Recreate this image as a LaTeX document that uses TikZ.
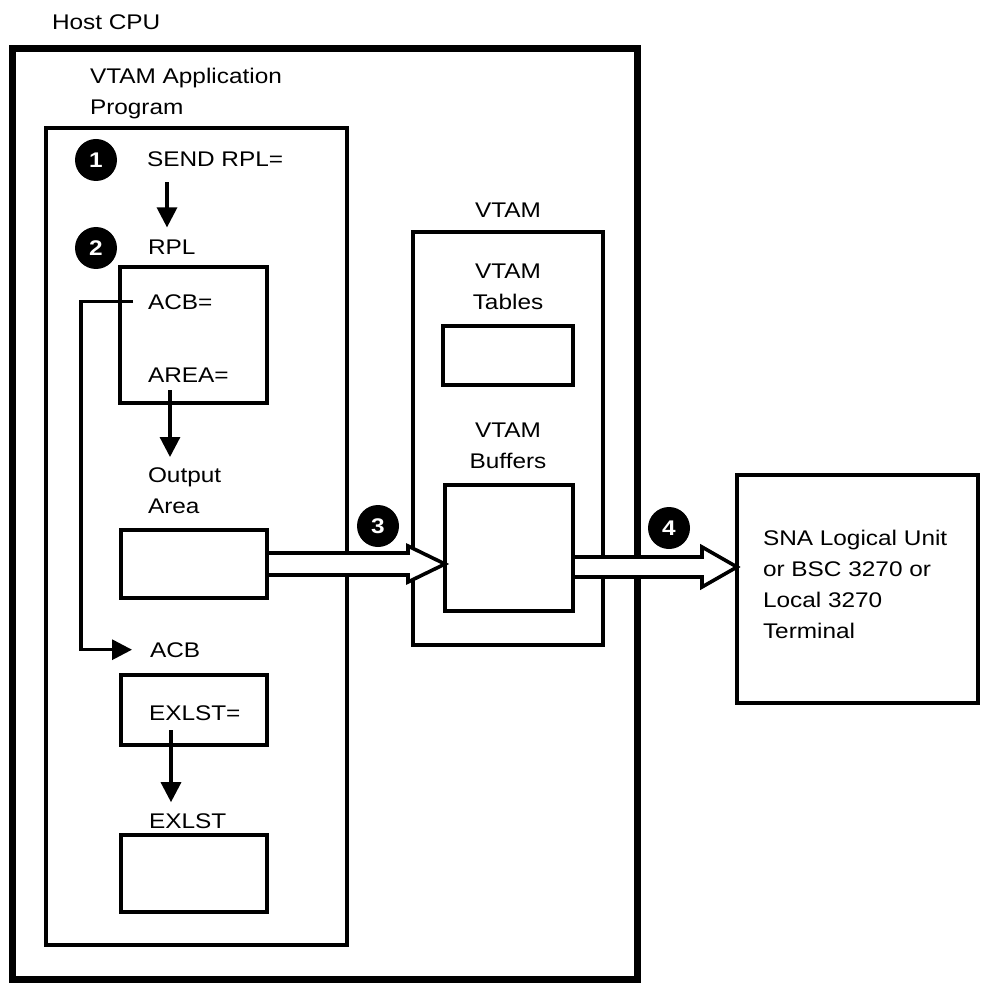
\documentclass[tikz,border=0pt]{standalone}
\usepackage{fontspec}
\setmainfont[FakeStretch=1.15]{Liberation Sans}
\usetikzlibrary{arrows.meta,calc}
\tikzset{
  lbl/.style={anchor=base west},
  box/.style={draw, line width=2.3pt},
  num/.style={circle, fill=black, text=white, minimum size=21pt, font=\fontsize{10.6pt}{12pt}\selectfont\bfseries},
  arr/.style={line width=1.6pt, -{Triangle[length=10pt,width=10pt]}},
  hollow/.style={line width=1.8pt, fill=white, line join=miter}
}
\begin{document}
\begin{tikzpicture}[x=0.5pt, y=-0.5pt, every node/.style={inner sep=0pt, outer sep=0pt, font=\fontsize{10.6pt}{15.5pt}\selectfont}]
\fill[white] (0,0) rectangle (985,984);
\useasboundingbox (0,0) rectangle (985,984);

\node[lbl] (host) at (52,30) {Host CPU};
\node[box, line width=3.5pt, minimum width=312.5pt, minimum height=465pt] (cpu) at (324.5,514) {};

\node[anchor=north west, align=left] (apptxt) at (90,68) {VTAM Application\\Program};
\node[box, minimum width=150.5pt, minimum height=408.5pt] (app) at (196.5,536.5) {};

\node[num] (c1) at (96,160) {1};
\node[lbl] (send) at (147,167) {SEND RPL=};
\node[num] (c2) at (96,248) {2};
\node[lbl] (rpltxt) at (148,255) {RPL};
\node[box, minimum width=73.5pt, minimum height=68pt] (rpl) at (193.5,335) {};
\node[lbl] (acbeq) at (148,309) {ACB=};
\node[lbl] (areaeq) at (148,382) {AREA=};

\node[anchor=north west, align=left] (outtxt) at (148,468) {Output\\Area};
\node[box, minimum width=73pt, minimum height=34pt] (outa) at (194,564) {};
\node[lbl] (acbtxt) at (150,657) {ACB};
\node[box, minimum width=73pt, minimum height=35pt] (acb) at (194,710) {};
\node[lbl] (exleq) at (149,720) {EXLST=};
\node[lbl] (exltxt) at (149,828) {EXLST};
\node[box, minimum width=73pt, minimum height=38.5pt] (exl) at (194,873.5) {};

\node[anchor=base] (vtamtxt) at (508,218) {VTAM};
\node[box, minimum width=95pt, minimum height=206.5pt] (vtam) at (508,438.5) {};
\node[anchor=north, align=center] (tabtxt) at (508,264) {VTAM\\Tables};
\node[box, minimum width=65pt, minimum height=29.5pt] (tab) at (508,355.5) {};
\node[anchor=north, align=center] (buftxt) at (508,423) {VTAM\\Buffers};
\node[box, minimum width=64pt, minimum height=63pt] (buf) at (509,548) {};

\node[box, minimum width=120.5pt, minimum height=114pt] (sna) at (857.5,589) {};
\node[anchor=north west, align=left] (snatxt) at (763,530) {SNA Logical Unit\\or BSC 3270 or\\Local 3270\\Terminal};

\node[num] (c3) at (378,526) {3};
\node[num] (c4) at (669,528) {4};

\draw[arr] ($(send.south west)+(20,15)$) -- ($(send.south west |- rpltxt.north)+(20,-13)$);
\draw[arr] ($(areaeq.south west)+(22,8)$) -- ($(areaeq.south west |- outtxt.north)+(22,-11)$);
\draw[arr] ($(exleq.south west)+(22,10)$) -- ($(exleq.south west |- exltxt.north)+(22,-11)$);
\draw[arr] ($(acbeq.west)+(-15,0)$) -- ++(-52,0) |- ($(acbtxt.west)+(-18,0)$);

\draw[hollow] ($(outa.east)+(2,-11)$) -- ($(buf.west |- outa.east)+(-37,-11)$) -- ++(0,-7) -- (buf.west |- outa.east) -- ++(-37,18) -- ++(0,-7) -- ($(outa.east)+(2,11)$);
\coordinate (f4) at ($(buf.east)+(2,19)$);
\draw[hollow] ($(f4)+(0,-10)$) -- ($(sna.west |- f4)+(-35,-10)$) -- ++(0,-10) -- (sna.west |- f4) -- ++(-35,20) -- ++(0,-10) -- ($(f4)+(0,10)$);
\end{tikzpicture}
\end{document}
